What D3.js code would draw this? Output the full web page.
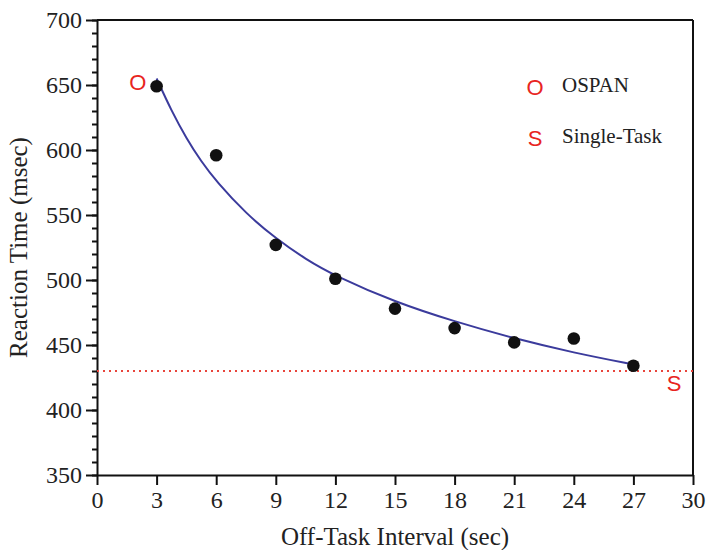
<!DOCTYPE html>
<html>
<head>
<meta charset="utf-8">
<script src="https://cdn.jsdelivr.net/npm/d3@7"></script>
<style>
  body { margin: 0; background: #fff; }
  svg text { font-family: "Liberation Serif", "Times New Roman", serif; fill: #222; }
  svg text.red { font-family: "Liberation Sans", Arial, sans-serif; fill: #e8251f; }
</style>
</head>
<body>
<svg width="707" height="550"></svg>
<script>
// observed means
var intervals = [3, 6, 9, 12, 15, 18, 21, 24, 27]
var reactionTimes = [649, 596, 527, 501, 478, 463, 452, 455, 434]

// fitted curve
var fitX = [3, 3.75, 4.5, 5.25, 6, 7.5, 9, 10.5, 12, 15, 18, 21, 24, 27]
var fitY = [655, 630, 609, 591, 576, 551, 532, 516, 503, 483, 468, 455, 444, 435]

// single-task baseline
var singleTask = 430

var xTicks = [0, 3, 6, 9, 12, 15, 18, 21, 24, 27, 30]
var yTicks = [350, 400, 450, 500, 550, 600, 650, 700]

// legend + markers on the chart
var legendKeys = ['O', 'S']
var legendNames = ['OSPAN', 'Single-Task']
var markerLetters = ['O', 'S']
var markerX = [2.05, 29.05]
var markerY = [652, 421]

var svg = d3.select('svg')
var mLeft = 97, mRight = 693, mTop = 20, mBottom = 475

var x = d3.scaleLinear().domain([0, 30]).range([mLeft, mRight])
var y = d3.scaleLinear().domain([350, 700]).range([mBottom, mTop])

// box top + right
svg.append('line')
  .attr('x1', mLeft).attr('x2', mRight).attr('y1', mTop).attr('y2', mTop)
  .attr('stroke', '#111').attr('stroke-width', 2)
svg.append('line')
  .attr('x1', mRight).attr('x2', mRight).attr('y1', mTop).attr('y2', mBottom)
  .attr('stroke', '#111').attr('stroke-width', 2)

// y minor ticks
svg.append('g')
  .attr('transform', 'translate(' + mLeft + ',0)')
  .call(d3.axisLeft(y).tickValues(d3.range(350, 701, 10)).tickSize(5).tickFormat(''))
  .call(function(g) { g.select('.domain').remove() })
  .selectAll('line').attr('stroke', '#111').attr('stroke-width', 2)

// y axis
var yAxis = svg.append('g')
  .attr('transform', 'translate(' + mLeft + ',0)')
  .call(d3.axisLeft(y).tickValues(yTicks).tickSize(11).tickPadding(4).tickSizeOuter(0))
yAxis.select('.domain').attr('stroke', '#111').attr('stroke-width', 2)
yAxis.selectAll('line').attr('stroke', '#111').attr('stroke-width', 2)
yAxis.selectAll('text').style('font-size', '24px')

// x axis
var xAxis = svg.append('g')
  .attr('transform', 'translate(0,' + mBottom + ')')
  .call(d3.axisBottom(x).tickValues(xTicks).tickSize(10).tickPadding(6).tickSizeOuter(0))
xAxis.select('.domain').attr('stroke', '#111').attr('stroke-width', 2)
xAxis.selectAll('line').attr('stroke', '#111').attr('stroke-width', 2)
xAxis.selectAll('text').style('font-size', '24px')

// axis titles
svg.append('text')
  .attr('x', (mLeft + mRight) / 2).attr('y', 545)
  .attr('text-anchor', 'middle').style('font-size', '25px')
  .text('Off-Task Interval (sec)')
svg.append('text')
  .attr('transform', 'translate(27,' + (mTop + mBottom) / 2 + ') rotate(-90)')
  .attr('text-anchor', 'middle').style('font-size', '25px')
  .text('Reaction Time (msec)')

// single-task dotted line
svg.append('line')
  .attr('x1', mLeft).attr('x2', mRight)
  .attr('y1', y(singleTask)).attr('y2', y(singleTask))
  .attr('stroke', '#e8453c').attr('stroke-width', 2.2)
  .attr('stroke-dasharray', '2,4')

// fitted curve
var fit = fitX.map(function(v, i) { return [v, fitY[i]] })
svg.append('path')
  .datum(fit)
  .attr('d', d3.line().x(function(d) { return x(d[0]) }).y(function(d) { return y(d[1]) }).curve(d3.curveBasis))
  .attr('fill', 'none')
  .attr('stroke', '#3b3b9c')
  .attr('stroke-width', 2)

// points
svg.selectAll('circle.pt')
  .data(intervals)
  .enter().append('circle')
  .attr('class', 'pt')
  .attr('cx', function(d) { return x(d) })
  .attr('cy', function(d, i) { return y(reactionTimes[i]) })
  .attr('r', 6.3)
  .attr('fill', '#111')

// red letters on the chart
markerLetters.forEach(function(l, i) {
  svg.append('text')
    .attr('class', 'red')
    .attr('x', x(markerX[i])).attr('y', y(markerY[i]))
    .attr('dy', '0.36em')
    .attr('text-anchor', 'middle')
    .style('font-size', '22px')
    .text(l)
})

// legend
legendKeys.forEach(function(k, i) {
  var ly = 87 + i * 51
  svg.append('text')
    .attr('class', 'red')
    .attr('x', 535).attr('y', ly).attr('dy', '0.36em')
    .attr('text-anchor', 'middle')
    .style('font-size', '22px')
    .text(k)
  svg.append('text')
    .attr('x', 562).attr('y', ly + 5)
    .style('font-size', '21px')
    .text(legendNames[i])
})
</script>
</body>
</html>
